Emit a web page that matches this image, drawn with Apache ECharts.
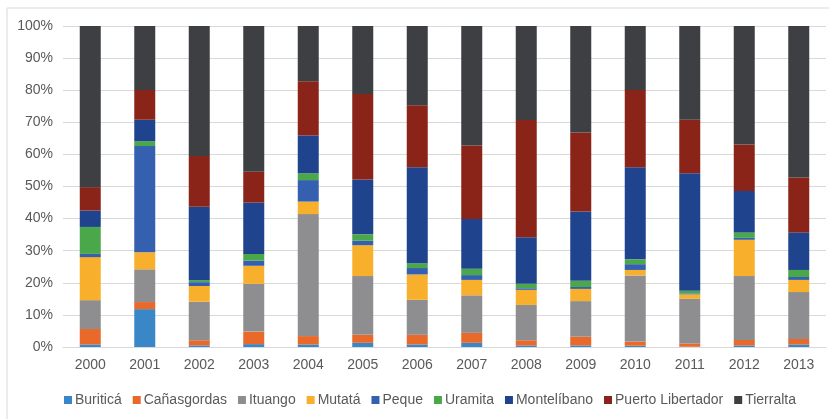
<!DOCTYPE html>
<html>
<head>
<meta charset="utf-8">
<script src="https://cdn.jsdelivr.net/npm/echarts@6/dist/echarts.min.js"></script>
<style>
html,body{margin:0;padding:0;background:#fff;}
#c{width:829px;height:419px;}
</style>
</head>
<body>
<div id="c"></div>
<script>
var years = ['2000','2001','2002','2003','2004','2005','2006','2007','2008','2009','2010','2011','2012','2013'];
var yTicks = [0,10,20,30,40,50,60,70,80,90,100];
var buritica     = [0.8,11.8,0.5,0.9,0.8,1.3,0.8,1.3,0.5,0.5,0.4,0.1,0.5,0.8];
var canasgordas  = [4.8,2.2,1.6,3.9,2.6,2.5,3.0,3.1,1.6,2.7,1.3,1.0,1.7,1.7];
var ituango      = [9.0,10.2,12.0,14.9,38.0,18.3,10.9,11.7,11.0,11.1,20.6,13.9,19.9,14.6];
var mutata       = [13.4,5.3,4.9,5.6,3.9,9.6,7.9,4.8,4.7,3.8,1.7,1.4,11.3,3.8];
var peque        = [1.0,33.1,1.2,1.6,6.7,1.4,2.0,1.5,0.5,0.6,1.8,0.3,0.6,0.9];
var uramita      = [8.4,1.5,0.6,2.1,2.1,2.0,1.5,2.0,1.4,1.9,1.5,0.8,1.7,2.2];
var montelibano  = [5.1,6.7,22.9,16.0,11.8,17.1,29.9,15.5,14.5,21.6,28.7,36.6,12.9,11.7];
var puerto       = [7.3,9.3,15.8,9.6,16.9,26.6,19.3,22.9,36.5,24.6,24.1,16.7,14.5,17.1];
var tierralta    = [50.2,19.9,40.5,45.4,17.2,21.2,24.7,37.2,29.3,33.2,19.9,29.2,36.9,47.2];

var seriesDefs = [
  ['Buriticá', buritica, '#3A87C8'],
  ['Cañasgordas', canasgordas, '#E8692A'],
  ['Ituango', ituango, '#8E8E91'],
  ['Mutatá', mutata, '#F8B02C'],
  ['Peque', peque, '#3560B0'],
  ['Uramita', uramita, '#4BA84A'],
  ['Montelíbano', montelibano, '#1F438C'],
  ['Puerto Libertador', puerto, '#8A2418'],
  ['Tierralta', tierralta, '#3E3F43']
];

var chart = echarts.init(document.getElementById('c'), null, {renderer:'canvas'});
var font = 'Liberation Sans, Arial, sans-serif';
chart.setOption({
  animation: false,
  backgroundColor: '#fff',
  graphic: [{
    type: 'rect', shape: {x: 7, y: 8, width: 900, height: 500},
    style: {fill: 'none', stroke: '#d9d9d9', lineWidth: 1}, silent: true
  }],
  grid: {left: 63, right: 3, top: 26, bottom: 72, containLabel: false},
  legend: {
    bottom: 7, left: 59,
    itemWidth: 8, itemHeight: 8, itemGap: 11,
    icon: 'rect',
    textStyle: {color: '#595959', fontSize: 14, fontFamily: font, padding: [0,0,0,-2]},
    data: seriesDefs.map(function(s){return s[0];})
  },
  xAxis: {
    type: 'category', data: years,
    axisTick: {show: false},
    axisLine: {lineStyle: {color: '#d9d9d9'}},
    axisLabel: {color: '#595959', fontSize: 14, fontFamily: font, margin: 11}
  },
  yAxis: {
    type: 'value', min: yTicks[0], max: yTicks[yTicks.length-1], interval: 10,
    axisLabel: {color: '#595959', fontSize: 14, fontFamily: font, formatter: '{value}%', margin: 10},
    splitLine: {lineStyle: {color: '#d9d9d9'}},
    axisLine: {show: false}, axisTick: {show: false}
  },
  series: seriesDefs.map(function(s){
    return {
      name: s[0], type: 'bar', stack: 'total', data: s[1],
      barWidth: 21,
      itemStyle: {color: s[2]}
    };
  })
});
</script>
</body>
</html>
